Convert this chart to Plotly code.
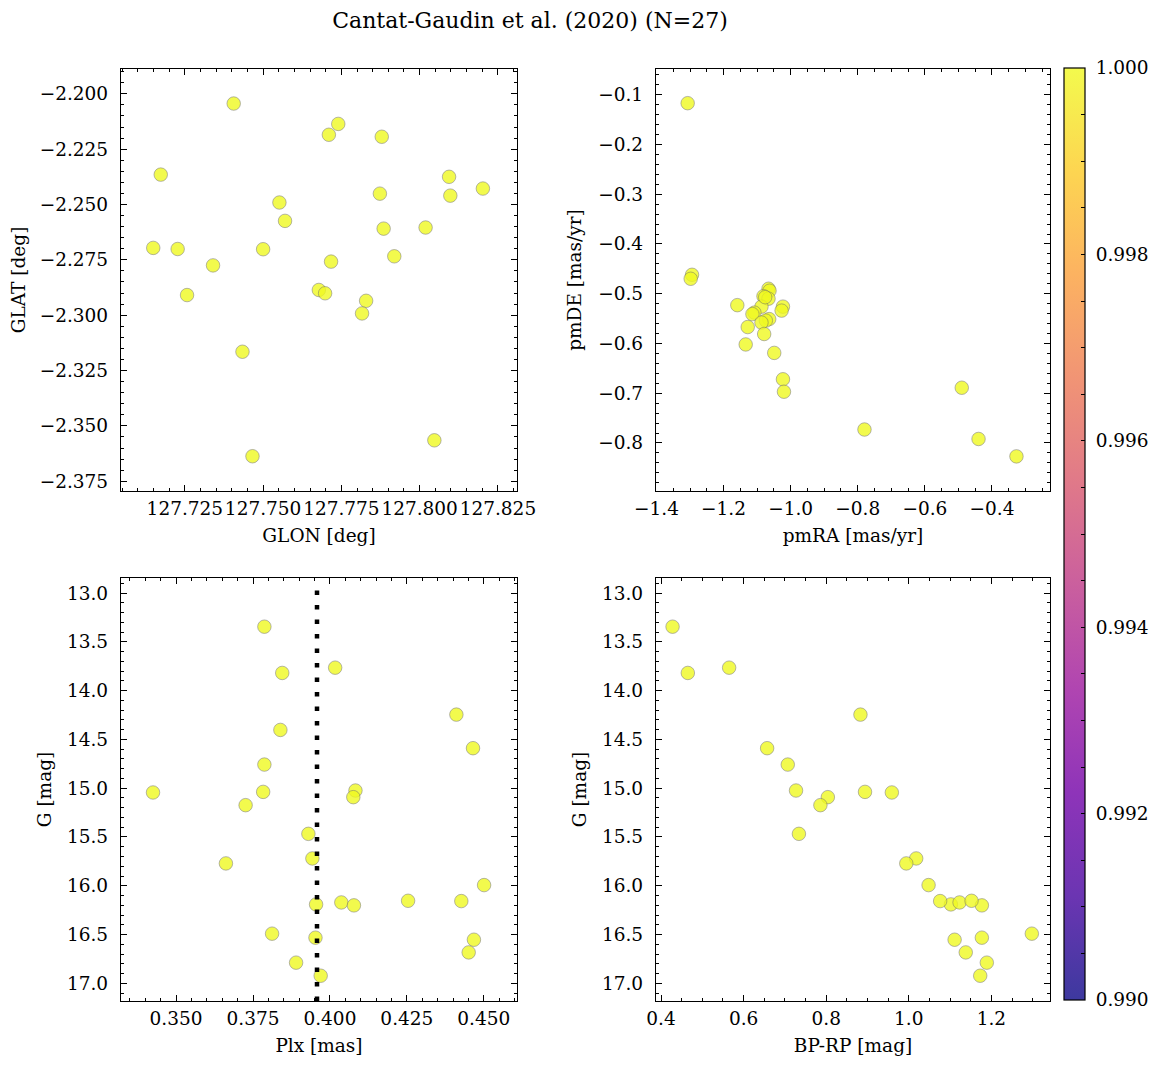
import plotly.graph_objects as go
import plotly.colors as pc

# membership probability of the 27 stars
proba = [1.0] * 27

# position on the sky
glon = [127.7406, 127.7710, 127.7740, 127.7879, 127.7173, 127.8094, 127.8202,
        127.8098, 127.7873, 127.7552, 127.7570, 127.7885, 127.8019, 127.7149,
        127.7227, 127.7500, 127.7340, 127.7717, 127.7919, 127.7257, 127.7678,
        127.7698, 127.7829, 127.7816, 127.7434, 127.8047, 127.7466]
glat = [-2.2044, -2.2185, -2.2136, -2.2194, -2.2365, -2.2375, -2.2428,
        -2.2460, -2.2451, -2.2491, -2.2574, -2.2609, -2.2604, -2.2696,
        -2.2701, -2.2702, -2.2775, -2.2758, -2.2734, -2.2909, -2.2886,
        -2.2901, -2.2935, -2.2992, -2.3165, -2.3565, -2.3637]

# proper motions
pmra = [-1.307, -1.294, -1.298, -1.159, -1.066, -1.063, -1.081, -1.066, -1.087,
        -1.023, -1.027, -1.108, -1.114, -1.064, -1.074, -1.087, -1.128, -1.079,
        -1.134, -1.049, -1.023, -1.020, -0.490, -0.780, -0.440, -0.327, -1.076]
pmde = [-0.117, -0.462, -0.470, -0.523, -0.490, -0.494, -0.505, -0.510, -0.526,
        -0.526, -0.534, -0.538, -0.541, -0.551, -0.554, -0.558, -0.567, -0.581,
        -0.602, -0.619, -0.672, -0.697, -0.689, -0.773, -0.792, -0.827, -0.507]

# parallax, G magnitude and colour (one star has no BP-RP)
plx = [0.3787, 0.4017, 0.3845, 0.4411, 0.3839, 0.4465, 0.3787, 0.3425, 0.3783,
       0.4083, 0.4076, 0.3726, 0.3930, 0.3943, 0.3662, 0.4501, 0.3955, 0.4037,
       0.4078, 0.4254, 0.4427, 0.3812, 0.3953, 0.4468, 0.4451, 0.3890, 0.3970]
gmag = [13.345, 13.765, 13.819, 14.246, 14.403, 14.590, 14.758, 15.044, 15.038,
        15.024, 15.092, 15.174, 15.468, 15.720, 15.771, 15.993, 16.191, 16.171,
        16.201, 16.154, 16.157, 16.491, 16.532, 16.553, 16.683, 16.788, 16.922]
bp_rp = [0.428, 0.565, 0.465, 0.883, None, 0.657, 0.707, 0.959, 0.894,
         0.727, 0.804, 0.786, 0.734, 1.018, 0.994, 1.048, 1.102, 1.123,
         1.177, 1.152, 1.076, 1.298, 1.177, 1.111, 1.138, 1.189, 1.173]

plx_ref = 0.3958

cbar_ticks = [0.990, 0.992, 0.994, 0.996, 0.998, 1.000]
cbar_labels = ["0.990", "0.992", "0.994", "0.996", "0.998", "1.000"]
cbar_minor = [0.990 + 0.0005 * i for i in range(21)]

title = "Cantat-Gaudin et al. (2020) (N=27)"

# page has an 8px body margin, so the figure is a bit smaller than the window
PAD = 8
W, H = 1161 - 2 * PAD, 1068 - 2 * PAD
FONT = "DejaVu Serif"
FS = 18.5
ALPHA = 0.8


# plasma as it looks with alpha 0.8 on white (used for the colour bar)
def fade(hexcol):
    r, g, b = pc.hex_to_rgb(hexcol)
    return "rgb(%d,%d,%d)" % tuple(round(c * ALPHA + 255 * (1 - ALPHA)) for c in (r, g, b))


plasma = pc.sequential.Plasma
faded = [[i / (len(plasma) - 1), fade(c)] for i, c in enumerate(plasma)]


# screen pixel -> paper fraction
def sx(p):
    return (p - PAD) / W


def sy(p):
    return 1 - (p - PAD) / H


# labels only on the major colour bar ticks (nbsp pushes them off the bar a bit)
cbar_text = []
for v in cbar_minor:
    v = round(v, 4)
    cbar_text.append("\u00a0" + cbar_labels[cbar_ticks.index(v)] if v in cbar_ticks else "")

fig = go.Figure()

marker = dict(size=13.5, color=proba, colorscale="Plasma", cmin=0.99, cmax=1.0,
              opacity=ALPHA, line=dict(color="rgb(105,105,105)", width=0.6))

fig.add_trace(go.Scatter(x=glon, y=glat, mode="markers", marker=marker, xaxis="x", yaxis="y"))
fig.add_trace(go.Scatter(x=pmra, y=pmde, mode="markers", marker=marker, xaxis="x2", yaxis="y2"))
fig.add_trace(go.Scatter(x=plx, y=gmag, mode="markers", marker=marker, xaxis="x3", yaxis="y3"))
fig.add_trace(go.Scatter(x=bp_rp, y=gmag, mode="markers", marker=marker, xaxis="x4", yaxis="y4"))

# colour bar holder
fig.add_trace(go.Scatter(
    x=[None], y=[None], mode="markers", xaxis="x", yaxis="y", hoverinfo="skip",
    marker=dict(color=[proba[0]], colorscale=faded, cmin=0.99, cmax=1.0, showscale=True,
                colorbar=dict(
                    x=sx(1064), xanchor="left", y=sy(68), yanchor="top",
                    len=(1000 - 68) / H, lenmode="fraction", thickness=21,
                    outlinecolor="black", outlinewidth=1.2,
                    tickmode="array", tickvals=cbar_minor, ticktext=cbar_text,
                    ticks="inside", ticklen=4, tickwidth=1, tickcolor="black",
                    tickfont=dict(family=FONT, size=FS, color="black"),
                    xpad=0, ypad=0,
                )),
))

# dotted reference parallax
fig.add_shape(type="line", xref="x3", yref="y3 domain", x0=plx_ref, x1=plx_ref, y0=0, y1=0.985,
              line=dict(color="black", width=4.5, dash="4.5px,10px"))


def axis(dom, anchor, rng, dtick, minor, fmt, title_text, standoff, lab_off, reverse=False):
    return dict(
        domain=dom, anchor=anchor, range=rng[::-1] if reverse else rng,
        dtick=dtick, tick0=0, tickformat=fmt, tickangle=0,
        ticks="inside", ticklen=6, tickwidth=1, tickcolor="black",
        minor=dict(ticks="inside", ticklen=3, tickwidth=1, tickcolor="black", dtick=minor, tick0=0),
        showline=True, linecolor="black", linewidth=1.3, mirror="allticks",
        showgrid=False, zeroline=False,
        tickfont=dict(family=FONT, size=FS, color="black"),
        title=dict(text=title_text, font=dict(family=FONT, size=FS, color="black"), standoff=standoff),
        automargin=True, ticklabelstandoff=lab_off,
    )


top = [sy(491), sy(69)]
bot = [sy(1001), sy(578)]
left = [sx(121), sx(517)]
right = [sx(656), sx(1050)]

fig.update_layout(
    width=W, height=H,
    margin=dict(l=0, r=0, t=0, b=0, autoexpand=False),
    paper_bgcolor="white", plot_bgcolor="white", showlegend=False,
    title=dict(text=title, x=sx(530), xanchor="center", y=sy(20), yanchor="middle",
               font=dict(family=FONT, size=22, color="black")),
    xaxis=axis(left, "y", [127.7046, 127.8311], 0.025, 0.005, ".3f", "GLON [deg]", 10, 1),
    yaxis=axis(top, "x", [-2.3794, -2.1888], 0.025, 0.005, ".3f", "GLAT [deg]", 12, 8),
    xaxis2=axis(right, "y2", [-1.4014, -0.227], 0.2, 0.05, ".1f", "pmRA [mas/yr]", 10, 1),
    yaxis2=axis(top, "x2", [-0.8966, -0.0483], 0.1, 0.02, ".1f", "pmDE [mas/yr]", 11, 8),
    xaxis3=axis(left, "y3", [0.3321, 0.4608], 0.025, 0.005, ".3f", "Plx [mas]", 10, 1),
    yaxis3=axis(bot, "x3", [12.846, 17.181], 0.5, 0.1, ".1f", "G [mag]", 10, 8, reverse=True),
    xaxis4=axis(right, "y4", [0.3879, 1.342], 0.2, 0.05, ".1f", "BP-RP [mag]", 10, 1),
    yaxis4=axis(bot, "x4", [12.846, 17.181], 0.5, 0.1, ".1f", "G [mag]", 10, 8, reverse=True),
)

fig.write_html("out.html")
